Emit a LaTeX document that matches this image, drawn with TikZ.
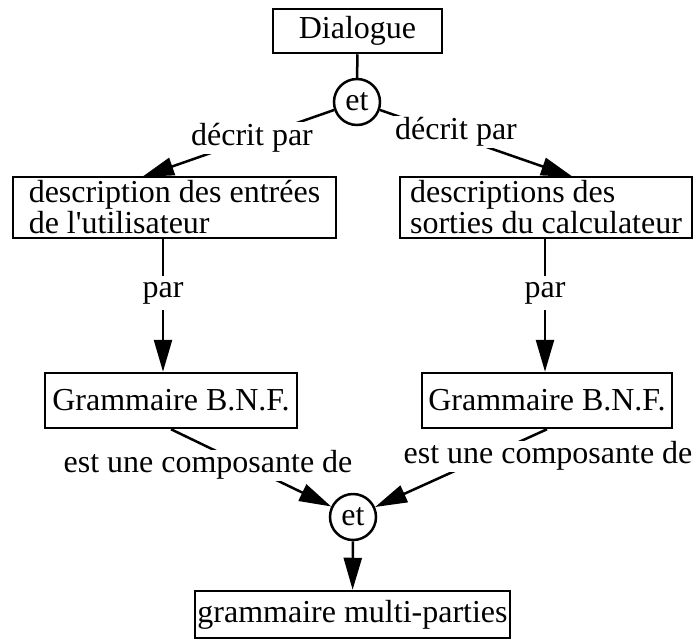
\documentclass[tikz,border=0pt]{standalone}
\usepackage{fontspec}
\setmainfont{Liberation Serif}
\usetikzlibrary{arrows.meta,backgrounds}
\tikzset{
  boite/.style={draw, line width=2.5pt, inner sep=0pt},
  rond/.style={draw, circle, line width=2.5pt, minimum size=46pt, inner sep=0pt},
  lien/.style={line width=2.5pt},
  fleche/.style={line width=2.5pt, -{Triangle[length=32pt,width=18pt]}},
  etiq/.style={fill=white, inner sep=1pt}
}
\begin{document}
\begin{tikzpicture}[x=1pt,y=-1pt]
            \tikzstyle{every node}+=[font=\fontsize{32}{31}\selectfont]
                \useasboundingbox (0,0) rectangle (694,641);
                \node [boite, minimum width=169pt, minimum height=44pt] (dialogue) at (357.5,31) {Dialogue};
                \node [rond] (et1) at (357,102) {et};
                \node [boite, minimum width=323pt, minimum height=61pt, align=left] (descL) at (174.5,207.5) {description des entrées\\de l\textquotesingle utilisateur};
                \node [boite, minimum width=292pt, minimum height=61pt, align=left] (descR) at (546,207.5) {descriptions des\\sorties du calculateur};
                \node [boite, minimum width=252pt, minimum height=55pt] (bnfL) at (171,400.5) {Grammaire B.N.F.};
                \node [boite, minimum width=250pt, minimum height=55pt] (bnfR) at (547,400.5) {Grammaire B.N.F.};
                \node [rond] (et2) at (353,517) {et};
                \node [boite, minimum width=315pt, minimum height=47pt] (multi) at (352.5,614.5) {grammaire multi-parties};
                \coordinate (tipL) at (142,177);
                \coordinate (tipR) at (573,177);
                % labels
                \node [etiq] (dpL) at (252,138) {décrit par};
                \node [etiq] (dpR) at (456,132) {décrit par};
                \node [etiq, inner sep=6pt] (parL) at (163,293) {par};
                \node [etiq, inner sep=6pt] (parR) at (545,293) {par};
                \node [etiq] (ecL) at (208,465) {est une composante de};
                \node [etiq] (ecR) at (548,456) {est une composante de};
                \begin{scope}[on background layer]
                \draw [lien] (dialogue) -- (et1);
                \draw [fleche] (et1) -- (tipL);
                \draw [fleche] (et1) -- (tipR);
                \draw [fleche] (descL.south -| parL) -- (bnfL.north -| parL);
                \draw [fleche] (descR.south -| parR) -- (bnfR.north -| parR);
                \draw [fleche] (bnfL.south) -- (et2);
                \draw [fleche] (bnfR.south) -- (et2);
                \draw [fleche] (et2) -- (multi);
                \end{scope}
            \end{tikzpicture}
\end{document}
